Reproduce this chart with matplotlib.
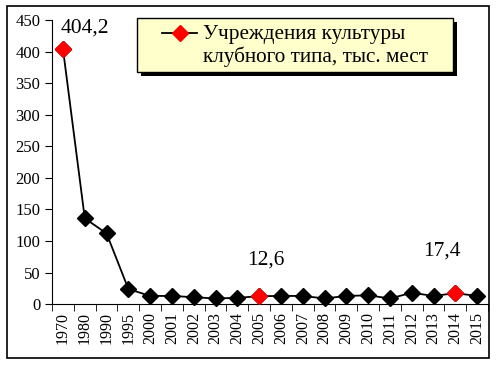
import matplotlib.pyplot as plt
from matplotlib.patches import Rectangle
from matplotlib.lines import Line2D

plt.rcParams['font.family'] = ['Liberation Serif', 'DejaVu Serif']

# данные
years = ["1970", "1980", "1990", "1995", "2000", "2001", "2002", "2003", "2004",
         "2005", "2006", "2007", "2008", "2009", "2010", "2011", "2012", "2013",
         "2014", "2015"]
values = [404.2, 136, 112, 24, 13, 13, 11, 9, 10, 12.6, 13, 13, 9, 13, 14, 9,
          18, 13, 17.4, 13]
highlight = ["1970", "2005", "2014"]
label = "Учреждения культуры\nклубного типа, тыс. мест"

W, H = 496, 366
fig = plt.figure(figsize=(W / 100, H / 100), dpi=100)
ax = fig.add_axes([0.105, 0.169, 0.879, 0.776])

x = list(range(len(years)))
ax.plot(x, values, color="black", lw=1.3, marker="D", ms=8.5,
        mfc="black", mec="black", zorder=3, clip_on=False)
hx = [years.index(y) for y in highlight]
hv = [values[i] for i in hx]
ax.plot(hx, hv, ls="none", marker="D", ms=8.5, mfc="red", mec="red",
        zorder=4, clip_on=False)

# подписи значений (смещение от точки в единицах данных)
offsets = {"1970": (1.0, 33), "2005": (0.3, 57), "2014": (-0.6, 67)}
for i in hx:
    txt = f"{values[i]:.1f}".replace(".", ",")
    dx, dy = offsets[years[i]]
    ax.text(i + dx, values[i] + dy, txt, fontsize=15.5, ha="center", va="center")

ax.set_xlim(-0.5, len(years) - 0.5)
ax.set_ylim(0, 450)
ax.set_yticks(range(0, 451, 50))
ax.set_xticks(x)
ax.set_xticklabels(years, rotation=90, fontsize=11.5)
ax.set_xticks([i - 0.5 for i in range(len(years) + 1)], minor=True)
ax.tick_params(axis="x", which="major", length=0, pad=6)
ax.tick_params(axis="x", which="minor", length=5, direction="out")
ax.tick_params(axis="y", labelsize=12, length=5, direction="out")
for s in ["top", "right"]:
    ax.spines[s].set_visible(False)

# легенда (рамка с тенью, как в Excel)
def px(xp, yp):
    return xp / W, 1 - yp / H

lx0, ly0, lx1, ly1 = 137, 18, 453, 72
fig.patches.append(Rectangle(px(lx0 + 4, ly1 + 4), (lx1 - lx0) / W, (ly1 - ly0) / H,
                             transform=fig.transFigure, facecolor="black",
                             edgecolor="black", lw=0, zorder=5))
fig.patches.append(Rectangle(px(lx0, ly1), (lx1 - lx0) / W, (ly1 - ly0) / H,
                             transform=fig.transFigure, facecolor="#FFFFCC",
                             edgecolor="black", lw=1, zorder=6))
fig.lines.append(Line2D([162 / W, 197 / W], [1 - 33 / H, 1 - 33 / H],
                        transform=fig.transFigure, color="black", lw=1.3,
                        zorder=7))
fig.lines.append(Line2D([179.5 / W], [1 - 33 / H], transform=fig.transFigure,
                        marker="D", ms=8.5, mfc="red", mec="red", zorder=8))
fig.text(203 / W, 1 - 46 / H, label, fontsize=15.3, ha="left", va="center",
         linespacing=1.2, zorder=8)

fig.patches.append(Rectangle((7 / W, 8 / H), 482 / W, 352 / H,
                             transform=fig.transFigure, fill=False,
                             edgecolor="black", lw=1.2))

fig.savefig("out.png", dpi=100)
